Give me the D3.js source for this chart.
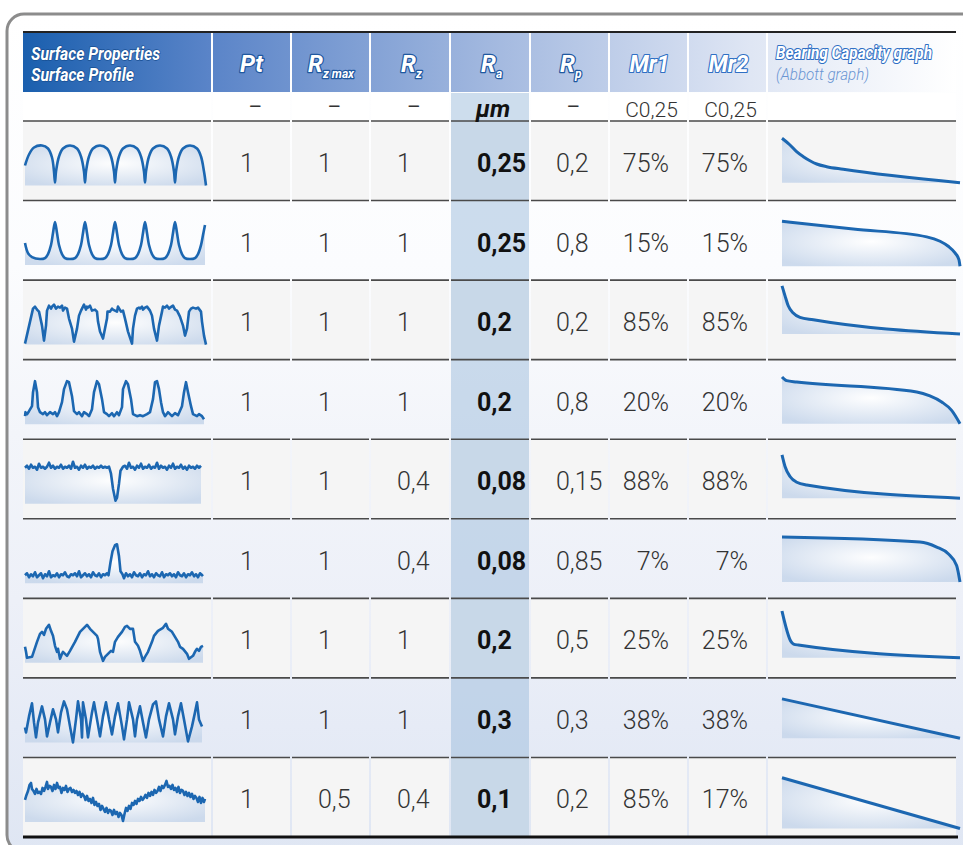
<!DOCTYPE html>
<html>
<head>
<meta charset="utf-8">
<script src="https://cdn.jsdelivr.net/npm/d3@7"></script>
<style>
  body { margin: 0; background: #fff; }
  svg { display: block; }
</style>
</head>
<body>
<svg id="chart" width="963" height="845"></svg>
<script>
// table values, one entry per surface
const ptValues    = [1, 1, 1, 1, 1, 1, 1, 1, 1];
const rzMaxValues = [1, 1, 1, 1, 1, 1, 1, 1, 0.5];
const rzValues    = [1, 1, 1, 1, 0.4, 0.4, 1, 1, 0.4];
const raValues    = [0.25, 0.25, 0.2, 0.2, 0.08, 0.08, 0.2, 0.3, 0.1];
const rpValues    = [0.2, 0.8, 0.2, 0.8, 0.15, 0.85, 0.5, 0.3, 0.2];
const mr1Values   = [75, 15, 85, 20, 88, 7, 25, 38, 85];
const mr2Values   = [75, 15, 85, 20, 88, 7, 25, 38, 17];
const unitLabels  = ["", "–", "–", "–", "µm", "–", "C0,25", "C0,25", ""];

// surface profiles: [position along sampling length, height]
const profile1 = [[0,20],[4,31],[9,38],[17,40],[23,37],[27,28],[29,14],[30,3],
  [31,14],[34,29],[38,37],[45,40],[52,37],[56,29],[59,14],[60,3],
  [61,14],[64,29],[68,37],[75,40],[82,37],[86,29],[89,14],[90,3],
  [91,14],[94,29],[98,37],[105,40],[112,37],[116,29],[119,14],[120,3],
  [121,14],[124,29],[128,37],[135,40],[142,37],[146,29],[149,14],[150,3],
  [151,14],[154,29],[158,37],[165,40],[172,37],[176,29],[179,14],[181,0]];
const profile2 = [[0,22],[3,12],[7,8],[15,6],[20,7],[23,11],[26,20],[28,32],[30,43],
  [32,32],[34,20],[37,11],[40,7],[45,6],[50,7],[53,11],[56,20],[58,32],[60,43],
  [62,32],[64,20],[67,11],[70,7],[75,6],[80,7],[83,11],[86,20],[88,32],[90,43],
  [92,32],[94,20],[97,11],[100,7],[105,6],[110,7],[113,11],[116,20],[118,32],[120,43],
  [122,32],[124,20],[127,11],[130,7],[135,6],[140,7],[143,11],[146,20],[148,32],[150,43],
  [152,32],[154,20],[157,11],[160,7],[165,6],[170,7],[173,11],[176,20],[178,30],[180,40]];
const profile3 = [[0,1],[8,36],[10,38],[12,35],[14,33],[17,19],[19,4],[21,19],[22,34],[24,39],
  [26,36],[27,38],[29,40],[31,36],[33,38],[35,37],[37,39],[38,34],[40,37],[42,36],[44,26],[47,16],[49,3],
  [52,16],[54,29],[56,34],[59,40],[61,35],[62,38],[63,37],[65,39],[67,34],[70,35],[72,33],[73,23],[75,13],[78,6],
  [80,16],[82,26],[82.5,33],[85,33],[87,36],[88,35],[90,34],[92,33],[93,38],[96,33],[98,34],[100,26],[103,13],[107,1],
  [108,16],[110,29],[112,36],[114,37],[115,36],[117,38],[118,35],[120,37],[122,38],[125,34],[127,29],[129,16],[132,4],
  [134,19],[137,33],[138,38],[140,37],[142,39],[144,36],[145,37],[148,39],[150,35],[152,34],[155,28],[158,19],[160,9],
  [162,16],[164,33],[166,36],[168,37],[171,36],[173,37],[176,33],[177,23],[179,9],[181,0]];
const profile4 = [[0,8],[0.5,12],[2,10],[4,13],[7,18],[8,32],[10,43],[12,32],[13,17],[15,12],[18,10],
  [20,12],[22,9],[25,12],[28,10],[30,12],[32,8],[34,12],[37,22],[39,35],[42,43],[44,42],[47,28],[49,13],
  [52,10],[54,12],[57,8],[59,12],[62,10],[64,8],[67,15],[69,32],[72,43],[74,40],[77,25],[79,12],
  [82,10],[84,8],[87,11],[89,8],[92,12],[94,9],[97,17],[98,35],[101,43],[103,40],[106,25],[108,10],
  [112,8],[115,9],[118,8],[122,10],[125,12],[128,25],[130,42],[132,43],[134,35],[136,22],[138,12],
  [140,8],[143,12],[147,8],[150,11],[153,9],[157,18],[159,32],[161,42],[163,32],[166,18],[168,10],
  [172,8],[174,10],[177,8],[179,5]];
const profile5 = [[0,36],[2,38],[4,35],[6,39],[8,36],[10,37],[12,34],[14,40],[16,36],[18,37],[20,35],
  [22,37],[24,41],[26,36],[28,38],[30,35],[32,37],[34,36],[36,39],[38,35],[40,37],[42,36],[44,38],
  [46,35],[48,42],[50,36],[52,37],[54,34],[56,38],[58,36],[60,39],[62,35],[64,37],[66,36],[68,38],
  [70,35],[72,37],[74,36],[76,38],[78,36],[80,37],[82,36],[84,37],
  [86,30],[88,15],[90.5,3],[92,6],[94,20],[95.5,33],[98,37],
  [100,38],[102,35],[104,41],[106,36],[108,37],[110,34],[112,38],[114,36],[116,40],[118,35],[120,37],
  [122,36],[124,39],[126,35],[128,37],[130,36],[132,41],[134,35],[136,38],[138,36],[140,37],[142,34],
  [144,38],[146,36],[148,40],[150,35],[152,37],[154,36],[156,39],[158,35],[160,37],[162,34],[164,38],
  [166,36],[168,37],[170,35],[172,38],[174,36],[176,38]];
const profile6 = [[0,8],[2,10],[4,6],[6,9],[8,7],[10,11],[12,6],[14,8],[16,10],[18,5],[20,9],[22,7],
  [24,12],[26,6],[28,8],[30,7],[32,10],[34,6],[36,9],[38,8],[40,11],[42,7],[44,6],[46,9],[48,8],[50,10],
  [52,7],[54,12],[56,6],[58,8],[60,10],[62,7],[64,9],[66,6],[68,11],[70,8],[72,7],[74,10],[76,6],
  [78,9],[80,8],[82,10],
  [83.5,8],[85.5,21],[87.5,32],[90,38],[92,39],[94,27],[95.5,12],[97.5,9],
  [99,5],[101,10],[103,7],[105,9],[107,6],[109,11],[111,8],[113,7],[115,10],[117,6],[119,9],[121,8],
  [123,12],[125,7],[127,9],[129,6],[131,10],[133,8],[135,7],[137,11],[139,6],[141,9],[143,8],[145,10],
  [147,7],[149,9],[151,6],[153,11],[155,8],[157,7],[159,10],[161,6],[163,9],[165,8],[167,11],[169,7],
  [171,9],[173,6],[175,10],[177,8],[178,9]];
const profile7 = [[0,16],[1,11],[2,5],[7,6],[8,9],[12,21],[15,29],[17,31],[19,28],[21,34],[24,38],
  [26,32],[28,27],[30,17],[32,11],[33,14],[35,4],[37,9],[38,11],[42,7],[45,12],[50,21],[55,31],[60,36],
  [62,38],[65,34],[68,31],[72,27],[73,24],[75,11],[78,2],[80,6],[83,9],[86,12],[88,11],[90,21],[93,26],
  [97,31],[100,36],[102,37],[105,34],[108,34],[110,21],[113,17],[115,12],[118,2],[120,6],[123,11],
  [127,21],[129,27],[133,32],[138,35],[141,39],[143,34],[147,31],[150,26],[153,21],[155,16],[158,14],
  [162,9],[164,4],[168,7],[170,11],[172,14],[174,12],[176,16],[178,17]];
const profile8 = [[0,15],[1,10],[4,26],[7,39],[9,20],[11,5],[13,20],[17,36],[20,23],[22,6],[25,20],
  [28,33],[31,23],[33,10],[36,30],[39,41],[42,33],[45,16],[48,0],[51,23],[53,41],[56,23],[57,5],
  [58,40],[61,23],[63,5],[67,30],[69,40],[72,23],[75,6],[78,26],[81,40],[84,23],[87,8],[90,26],
  [93,39],[97,16],[99,3],[102,23],[104,40],[108,23],[110,6],[112,23],[115,36],[118,20],[121,5],
  [124,23],[128,38],[131,41],[134,23],[138,6],[141,26],[144,39],[148,23],[150,8],[153,26],[156,39],
  [159,23],[163,1],[167,16],[170,30],[172,40],[174,23],[177,16]];
const profile9 = [[0,22],[1.5,27],[3,31],[4.5,37],[6,39],[7,33],[8.5,31],[10,28],[11.5,33],[13,29],
  [14.5,30],[16,28],[17.5,34],[19,31],[20.5,35],[22,40],[23,33],[24.5,36],[26,35],[27.5,31],[29,37],
  [30.5,33],[32,39],[33.5,34],[35,35],[36.5,29],[38,34],[39.5,32],[41,36],[42.5,30],[44,33],[45.5,34],
  [47,30],[48.5,32],[50,29],[51.5,31],[53,27],[54.5,30],[56,25],[57.5,28],[59,26],[60.5,22],[62,26],
  [63.5,21],[65,23],[66.5,19],[68,24],[69.5,17],[71,20],[72.5,16],[74,18],[75.5,12],[77,16],[78.5,13],
  [80,10],[81.5,14],[83,9],[84.5,12],[86,11],[87.5,7],[89,12],[90.5,8],[92,10],[93.5,5],[95,9],[96.5,7],
  [98,1],[99.5,8],[101,14],[102.5,11],[104,16],[105.5,13],[107,19],[108.5,17],[110,21],[111.5,18],
  [113,23],[114.5,21],[116,25],[117.5,22],[119,24],[120.5,27],[122,24],[123.5,29],[125,26],[126.5,30],
  [128,27],[129.5,32],[131,29],[132.5,31],[134,35],[135.5,31],[137,36],[138.5,34],[140,37],[141.5,41],
  [143,35],[144.5,36],[146,33],[147.5,37],[149,32],[150.5,34],[152,30],[153.5,35],[155,29],[156.5,32],
  [158,31],[159.5,27],[161,30],[162.5,26],[164,29],[165.5,25],[167,28],[168.5,23],[170,26],[171.5,24],
  [173,20],[174.5,25],[176,19],[177.5,24],[179,20],[180,23]];
const profiles = [profile1, profile2, profile3, profile4, profile5, profile6, profile7, profile8, profile9];
const smoothProfile = [true, true, false, false, false, false, false, false, false];

// Abbott (bearing ratio) curves: [bearing ratio %, height]
const abbott1 = [[0,57.7],[4.5,51],[8.2,44.3],[12,39.3],[15.7,35.3],[19.5,32],[25.1,29.3],[34.4,26.7],[100,13.3]];
const abbott2 = [[0,54.3],[40,46.5],[81.3,38.7],[88.8,34.3],[93.4,29.3],[97.2,22.7],[99.4,16],[100,9.3]];
const abbott3 = [[0,69.3],[1.7,59.3],[3.5,49.3],[6.3,42],[10.1,37.7],[17.6,35.3],[100,21]];
const abbott4 = [[0,57.7],[2.6,54],[8.3,52.7],[75.7,42.7],[83.1,38.7],[89.7,32.7],[95.3,24.3],[100,11]];
const abbott5 = [[0,59.3],[1.7,47.7],[4.5,37.7],[8.3,32],[13.9,29.3],[100,16]];
const abbott6 = [[0,56.7],[77.5,51.7],[86.9,46.7],[93.4,40],[98.1,28.3],[100,11.7]];
const abbott7 = [[0,62.3],[5,32],[6.5,29.3],[9.2,28.3],[100,15.7]];
const abbott8 = [[0,54],[100,14.7]];
const abbott9 = [[0,54.7],[100,4]];
const abbotts = [abbott1, abbott2, abbott3, abbott4, abbott5, abbott6, abbott7, abbott8, abbott9];

const fmt = v => String(v).replace(".", ",");
const blue = "#1c67b1";

const svg = d3.select("#chart");
const defs = svg.append("defs");

// frame background
const bg = defs.append("linearGradient").attr("id", "frameBg").attr("x1", 0).attr("y1", 0).attr("x2", 0).attr("y2", 1);
[[0, "#ffffff"], [0.3, "#fbfcfe"], [0.5, "#f3f5fa"], [0.7, "#edf0f8"], [0.85, "#e6ebf6"], [1, "#dfe6f3"]]
  .forEach(s => bg.append("stop").attr("offset", s[0]).attr("stop-color", s[1]));

const hdr = defs.append("linearGradient").attr("id", "headBg")
  .attr("gradientUnits", "userSpaceOnUse").attr("x1", 23).attr("x2", 956).attr("y1", 0).attr("y2", 0);
[[0, "#1a5fae"], [0.2, "#5a84c8"], [0.5, "#a2b8df"], [0.78, "#dfe6f4"], [1, "#ffffff"]]
  .forEach(s => hdr.append("stop").attr("offset", s[0]).attr("stop-color", s[1]));

const area = defs.append("radialGradient").attr("id", "areaBg").attr("cx", 0.5).attr("cy", 0.45).attr("r", 0.65);
[[0, "#ffffff"], [1, "#c8d7eb"]]
  .forEach(s => area.append("stop").attr("offset", s[0]).attr("stop-color", s[1]));

svg.append("rect").attr("x", 7).attr("y", 14).attr("width", 1000).attr("height", 838).attr("rx", 17)
  .attr("fill", "url(#frameBg)").attr("stroke", "#8c8c8c").attr("stroke-width", 3);

// layout
const colEdges = [23, 213, 292, 371, 451, 531, 610, 689, 768, 958];
const cols = d3.range(9);
const rows = d3.range(9);
const rowScale = d3.scaleBand().domain(rows).range([121, 837]);
const rowH = rowScale.bandwidth();

// header
svg.selectAll(".hcell").data(cols).join("rect").attr("class", "hcell")
  .attr("x", i => colEdges[i]).attr("y", 33).attr("width", i => colEdges[i + 1] - colEdges[i] - 2).attr("height", 59)
  .attr("fill", "url(#headBg)");
svg.append("line").attr("x1", 23).attr("x2", 956).attr("y1", 32).attr("y2", 32)
  .attr("stroke", "#222").attr("stroke-width", 2);

// row backgrounds
rows.forEach(r => {
  svg.selectAll(null).data(cols).join("rect")
    .attr("x", i => colEdges[i]).attr("y", rowScale(r)).attr("width", i => colEdges[i + 1] - colEdges[i] - 2)
    .attr("height", rowH).attr("fill", r % 2 === 0 ? "#f5f5f5" : "none");
});
// units row background
svg.selectAll(null).data(cols).join("rect")
  .attr("x", i => colEdges[i]).attr("y", 93).attr("width", i => colEdges[i + 1] - colEdges[i] - 2)
  .attr("height", 28).attr("fill", "#ffffff");

// Ra highlight
svg.append("rect").attr("x", colEdges[4]).attr("y", 93).attr("width", colEdges[5] - colEdges[4] - 2)
  .attr("height", 837 - 93).attr("fill", "#9bbcdc").attr("opacity", 0.5);

// row lines
const lineYs = [121].concat(rows.map(r => rowScale(r) + rowH));
lineYs.forEach((y, k) => {
  const last = k === lineYs.length - 1;
  svg.selectAll(null).data(cols).join("line")
    .attr("x1", i => colEdges[i]).attr("x2", i => colEdges[i + 1] - (last ? 0 : 2))
    .attr("y1", y).attr("y2", y)
    .attr("stroke", last ? "#111" : "#4a4a4a").attr("stroke-width", last ? 3 : 1.6);
});

// header labels
const headFont = "Roboto, 'DejaVu Sans', sans-serif";
function outlined(sel, stroke, width) {
  return sel.attr("fill", "#fff").attr("stroke", stroke).attr("stroke-width", width)
    .attr("paint-order", "stroke").attr("stroke-linejoin", "round")
    .attr("font-family", headFont).attr("font-weight", 700).attr("font-style", "italic");
}
outlined(svg.append("text").attr("x", 31).attr("y", 60).attr("font-size", 18)
  .attr("textLength", 129).attr("lengthAdjust", "spacingAndGlyphs").text("Surface Properties"), "#174f93", 1.5);
outlined(svg.append("text").attr("x", 31).attr("y", 81).attr("font-size", 18)
  .attr("textLength", 103).attr("lengthAdjust", "spacingAndGlyphs").text("Surface Profile"), "#174f93", 1.5);

const midCol = i => (colEdges[i] + colEdges[i + 1] - 2) / 2;
outlined(svg.append("text").attr("x", midCol(1)).attr("y", 72).attr("text-anchor", "middle")
  .attr("font-size", 24).text("Pt"), "#1f58a0", 2.5);

const rLabels = [[2, "z max", 308], [3, "z", 401], [4, "a", 481], [5, "p", 560]];
rLabels.forEach(d => {
  const t = outlined(svg.append("text").attr("x", d[2]).attr("y", 72).attr("font-size", 24), "#1f58a0", 2.5);
  t.append("tspan").text("R");
  t.append("tspan").attr("font-size", 12).attr("dy", 6).text(d[1]);
});

[[6, "Mr1"], [7, "Mr2"]].forEach(d => {
  outlined(svg.append("text").attr("x", midCol(d[0]) + 1).attr("y", 72).attr("text-anchor", "middle")
    .attr("font-size", 23).attr("textLength", 40).attr("lengthAdjust", "spacingAndGlyphs").text(d[1]), "#2f6fc4", 2.2);
});
outlined(svg.append("text").attr("x", 776).attr("y", 59).attr("font-size", 18)
  .attr("textLength", 156).attr("lengthAdjust", "spacingAndGlyphs").text("Bearing Capacity graph"), "#2f6fc4", 2.2);
svg.append("text").attr("x", 776).attr("y", 80).attr("font-size", 16)
  .attr("font-family", headFont).attr("font-style", "italic").attr("font-weight", 300)
  .attr("textLength", 93).attr("lengthAdjust", "spacingAndGlyphs")
  .attr("fill", "#6a95d3").text("(Abbott graph)");

// units row
svg.selectAll(".unit").data(cols.filter(i => unitLabels[i])).join("text").attr("class", "unit")
  .attr("x", i => midCol(i) + (i === 4 ? 3 : i >= 6 ? 3 : 4))
  .attr("y", i => i === 4 ? 117 : i >= 6 ? 117 : 114)
  .attr("text-anchor", "middle")
  .attr("font-family", "Roboto, sans-serif")
  .attr("font-size", i => i === 4 ? 24 : 21)
  .attr("font-weight", i => i === 4 ? 700 : i >= 6 ? 300 : 400)
  .attr("font-style", i => i === 4 ? "italic" : "normal")
  .attr("fill", i => i === 4 ? "#111" : "#333")
  .text(i => unitLabels[i]);

// numeric cells
const columnsData = [
  { vals: ptValues,    x: 240, anchor: "start", f: fmt },
  { vals: rzMaxValues, x: 318, anchor: "start", f: fmt },
  { vals: rzValues,    x: 397, anchor: "start", f: fmt },
  { vals: raValues,    x: 477, anchor: "start", f: fmt, bold: true },
  { vals: rpValues,    x: 556, anchor: "start", f: fmt },
  { vals: mr1Values,   x: 669, anchor: "end",   f: v => v + "%" },
  { vals: mr2Values,   x: 748, anchor: "end",   f: v => v + "%" }
];
columnsData.forEach(c => {
  svg.append("g").selectAll("text").data(c.vals).join("text")
    .attr("x", c.x).attr("y", (d, r) => rowScale(r) + 51)
    .attr("text-anchor", c.anchor)
    .attr("font-family", "Roboto, sans-serif").attr("font-size", 25)
    .attr("font-weight", c.bold ? 700 : 300)
    .attr("fill", c.bold ? "#111" : "#333")
    .text(c.f);
});

// surface profiles
const px = d3.scaleLinear().domain([0, 180]).range([25, 205]);
profiles.forEach((p, r) => {
  const top = rowScale(r);
  const py = d3.scaleLinear().domain([0, 40]).range([top + 64.5, top + 24.5]);
  const curve = smoothProfile[r] ? d3.curveCatmullRom.alpha(0.5) : d3.curveLinear;
  const g = svg.append("g");
  g.append("path").datum(p)
    .attr("d", d3.area().x(d => px(d[0])).y0(py(0)).y1(d => py(Math.max(d[1], 0))).curve(curve))
    .attr("fill", "url(#areaBg)").attr("opacity", 0.9);
  g.append("path").datum(p)
    .attr("d", d3.line().x(d => px(d[0])).y(d => py(d[1])).curve(curve))
    .attr("fill", "none").attr("stroke", blue).attr("stroke-width", 2.6).attr("stroke-linejoin", "round");
});

// Abbott curves
const ax = d3.scaleLinear().domain([0, 100]).range([782, 960]);
abbotts.forEach((a, r) => {
  const top = rowScale(r);
  const ay = d3.scaleLinear().domain([0, 60]).range([top + 75, top + 15]);
  const base = a[a.length - 1][1];
  const g = svg.append("g");
  g.append("path").datum(a)
    .attr("d", d3.area().x(d => ax(d[0])).y0(ay(base)).y1(d => ay(d[1])).curve(d3.curveMonotoneX))
    .attr("fill", "url(#areaBg)").attr("opacity", 0.9);
  g.append("path").datum(a)
    .attr("d", d3.line().x(d => ax(d[0])).y(d => ay(d[1])).curve(d3.curveMonotoneX))
    .attr("fill", "none").attr("stroke", blue).attr("stroke-width", 3);
});
</script>
</body>
</html>
